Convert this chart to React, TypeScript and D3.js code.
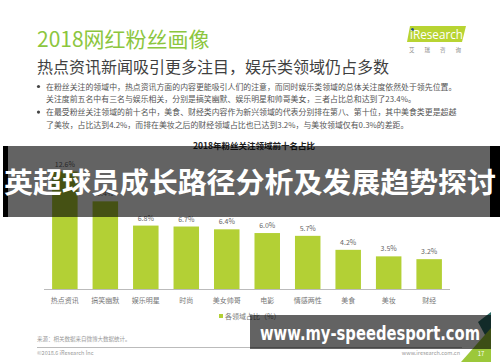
import React from "react";
import * as d3 from "d3";

const categories = ["热点资讯", "搞笑幽默", "娱乐明星", "时尚", "美女帅哥", "电影", "情感两性", "美食", "美妆", "财经"];
const shares = [12.6, 9.4, 6.8, 6.7, 6.4, 6.0, 5.7, 4.2, 3.5, 3.2];

const pageTitle = "2018网红粉丝画像";
const pageSubtitle = "热点资讯新闻吸引更多注目，娱乐类领域仍占多数";
const bulletLines = [
  { bullet: true, text: "在粉丝关注的领域中，热点资讯方面的内容更能吸引人们的注意，而同时娱乐类领域的总体关注度依然处于领先位置。" },
  { bullet: false, text: "关注度前五名中有三名与娱乐相关，分别是搞笑幽默、娱乐明星和帅哥美女，三者占比总和达到了23.4%。" },
  { bullet: true, text: "在最受粉丝关注领域的前十名中，美食、财经类内容作为新兴领域的代表分别排在第八、第十位，其中美食类更是超越" },
  { bullet: false, text: "了美妆，占比达到4.2%，而排在美妆之后的财经领域占比也已达到3.2%，与美妆领域仅有0.3%的差距。" },
];
const chartTitle = "2018年粉丝关注领域前十名占比";
const legendLabel = "各领域占比（%）";
const overlayTitle = "英超球员成长路径分析及发展趋势探讨";
const overlayUrl = "www.my-speedesport.com";

const CJK = "'Noto Sans CJK SC', 'Noto Sans', sans-serif";
const GREEN = "#b3d035";

export default function App() {
  const x = d3.scaleBand<string>().domain(categories).range([44, 450]).paddingInner(0.37).paddingOuter(0.2);
  const y = d3.scaleLinear().domain([0, 12.6]).range([289, 171.5]);

  return (
    <div style={{ position: "fixed", left: 0, top: 0 }}>
      <svg width={500} height={362} style={{ display: "block", background: "#fff" }}>
        {/* header */}
        <text x={37} y={47} fontFamily={CJK} fontSize={21} fill="#8cc63e">{pageTitle}</text>
        <text x={37} y={73} fontFamily={CJK} fontSize={16} fill="#3f3f3f">{pageSubtitle}</text>

        {/* iResearch logo */}
        <polygon points="410,26 466,26 462,42 407,42" fill="#b8d432" />
        <circle cx={412.5} cy={29.5} r={1.5} fill="#1f4f8f" />
        <text x={410} y={39} fontFamily="'Open Sans', sans-serif" fontSize={12.5} fill="#fff" textLength={53} lengthAdjust="spacingAndGlyphs">iResearch</text>
        <text x={409} y={52} fontFamily={CJK} fontSize={5.5} fill="#888" textLength={52} lengthAdjust="spacing">艾瑞咨询</text>

        {/* bullets */}
        {bulletLines.map((d, i) => (
          <g key={i}>
            {d.bullet && <circle cx={38.5} cy={86.5 + i * 12.8} r={1.6} fill="#444" />}
            <text x={46} y={89.5 + i * 12.8} fontFamily={CJK} fontSize={7.9} fill="#555">{d.text}</text>
          </g>
        ))}

        {/* chart title */}
        <text x={254} y={149} textAnchor="middle" fontFamily={CJK} fontSize={8.5} fontWeight="bold" fill="#222">{chartTitle}</text>

        {/* bars */}
        {categories.map((c, i) => (
          <g key={c}>
            <rect x={x(c)} y={y(shares[i])} width={x.bandwidth()} height={y(0) - y(shares[i])} fill={GREEN} />
            <text x={(x(c) ?? 0) + x.bandwidth() / 2} y={y(shares[i]) - 5} textAnchor="middle" fontFamily={CJK} fontSize={7} fill="#666">{shares[i].toFixed(1)}%</text>
            <text x={(x(c) ?? 0) + x.bandwidth() / 2} y={302.5} textAnchor="middle" fontFamily={CJK} fontSize={7} fill="#777">{c}</text>
          </g>
        ))}
        <line x1={44} x2={450} y1={289.5} y2={289.5} stroke="#bbb" strokeWidth={1} />

        {/* legend */}
        <rect x={219} y={314} width={4} height={4} fill={GREEN} />
        <text x={225} y={318.5} fontFamily={CJK} fontSize={7} fill="#777">{legendLabel}</text>

        {/* footer */}
        <text x={37} y={341} fontFamily={CJK} fontSize={5.5} fill="#999">来源：相关数据来自微博大数据统计。</text>
        <line x1={37} x2={462} y1={347.5} y2={347.5} stroke="#aaa" strokeWidth={0.8} />
        <text x={37} y={355} fontFamily={CJK} fontSize={5.5} fill="#999">©2018.6 iResearch Inc</text>
        <text x={460} y={355} textAnchor="end" fontFamily={CJK} fontSize={5.5} fill="#999">www.iresearch.com.cn</text>
        <polygon points="478,322 491,312 491,346" fill="#2f6f6a" />
        <polygon points="461,362 491,362 491,328" fill="#9cc83a" />
        <text x={481} y={356} textAnchor="middle" fontFamily={CJK} fontSize={6} fill="#fff">17</text>

        {/* overlay band */}
        <rect x={3} y={146} width={494} height={71} fill="#000" opacity={0.61} />
        <rect x={3} y={146} width={5} height={71} fill="#000" />
        <rect x={490} y={146} width={10} height={71} fill="#000" />
        <text x={4} y={193} fontFamily={CJK} fontWeight="bold" fontSize={28.5} fill="#fff" textLength={492} lengthAdjust="spacingAndGlyphs">{overlayTitle}</text>

        <rect x={250} y={315} width={241} height={34} fill="#000" opacity={0.61} />
        <text x={260} y={340} fontFamily="'DejaVu Sans', sans-serif" fontWeight="bold" fontSize={19} fill="#fff" textLength={220} lengthAdjust="spacingAndGlyphs">{overlayUrl}</text>
      </svg>
    </div>
  );
}
